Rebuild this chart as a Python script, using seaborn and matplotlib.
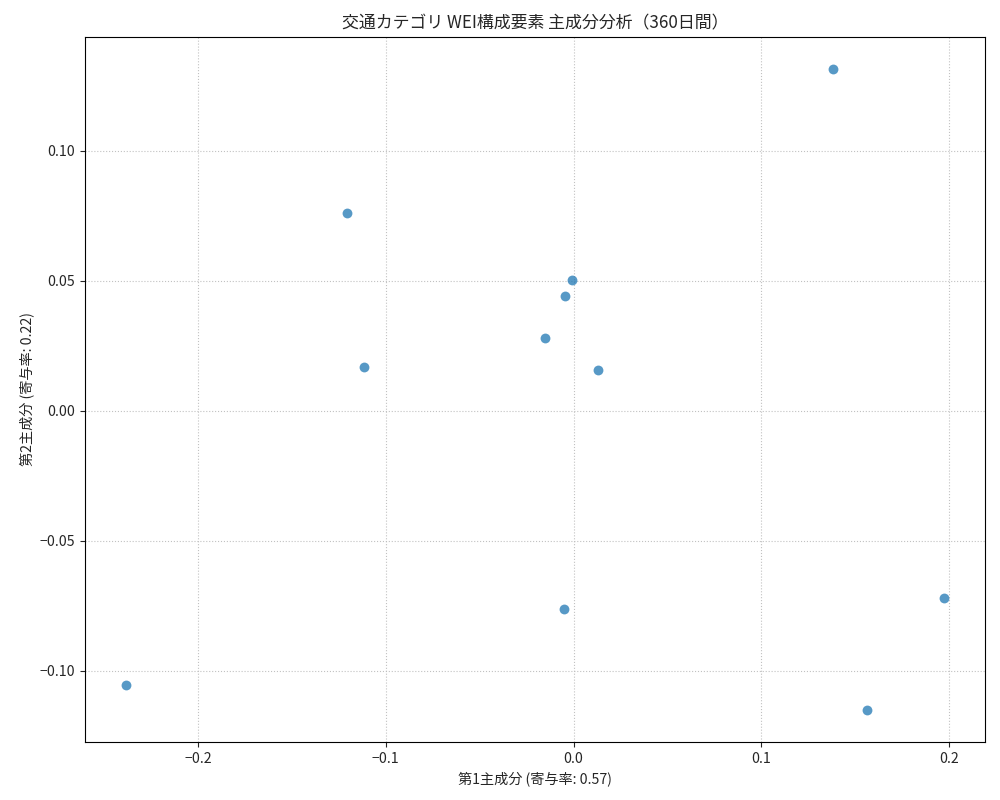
import seaborn as sns
import matplotlib.pyplot as plt

# PCA scores (PC1, PC2) of the transport-category WEI components
pc1 = [0.1383, -0.1207, -0.0010, -0.0043, -0.0154, -0.1117, 0.0128, -0.0053, 0.1973, -0.2383, 0.1564]
pc2 = [0.1315, 0.0762, 0.0502, 0.0442, 0.0281, 0.0169, 0.0158, -0.0762, -0.0719, -0.1054, -0.1150]
ratio1 = 0.57
ratio2 = 0.22

sns.set_style("white")
plt.rcParams['font.family'] = ['Noto Sans CJK JP', 'DejaVu Sans']
plt.rcParams['axes.unicode_minus'] = True

fig, ax = plt.subplots(figsize=(10, 8), dpi=100)
sns.scatterplot(x=pc1, y=pc2, ax=ax, s=50, alpha=0.75, color='#1f77b4', linewidth=0)

ax.set_title('交通カテゴリ WEI構成要素 主成分分析（360日間）', fontsize=12.2)
ax.set_xlabel(f'第1主成分 (寄与率: {ratio1:.2f})', fontsize=10.2)
ax.set_ylabel(f'第2主成分 (寄与率: {ratio2:.2f})', fontsize=10.2)
ax.grid(True, linestyle=':', color='#bbbbbb', alpha=0.9)
for sp in ax.spines.values():
    sp.set_color('black')
    sp.set_linewidth(0.8)
ax.tick_params(left=True, bottom=True, length=3.5, width=0.8, labelsize=10.2)

fig.subplots_adjust(left=0.085, right=0.985, top=0.954, bottom=0.0725)
plt.savefig('out.png', dpi=100)
